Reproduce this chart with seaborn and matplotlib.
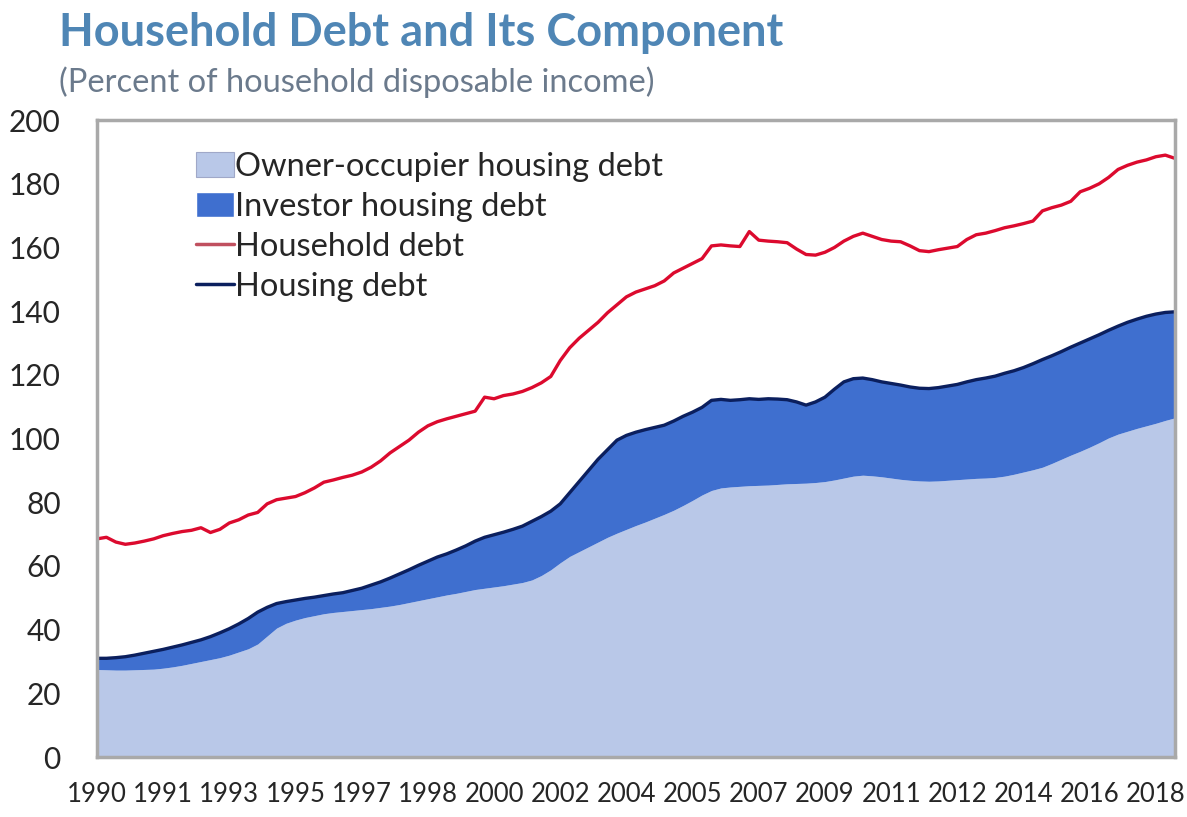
import numpy as np
import pandas as pd
import matplotlib
matplotlib.use("Agg")
import matplotlib.pyplot as plt
import seaborn as sns
from matplotlib.patches import Patch
from matplotlib.lines import Line2D

# quarterly data, 1990Q1 - 2018Q3, percent of household disposable income
household_debt = [
    68.5, 69, 67.5, 66.8, 67.2, 67.8, 68.5, 69.5, 70.2, 70.8,
    71.2, 72, 70.5, 71.5, 73.5, 74.5, 76, 76.8, 79.5, 80.8,
    81.3, 81.8, 83, 84.5, 86.3, 87, 87.8, 88.5, 89.5, 91,
    93, 95.5, 97.5, 99.5, 102, 104, 105.3, 106.2, 107, 107.8,
    108.6, 113, 112.5, 113.5, 114, 114.8, 116, 117.5, 119.5, 124.5,
    128.5, 131.5, 134, 136.5, 139.5, 142, 144.5, 146, 147, 148,
    149.5, 152, 153.5, 155, 156.5, 160.5, 160.8, 160.5, 160.3, 165,
    162.3, 162, 161.8, 161.5, 159.5, 157.8, 157.6, 158.5, 160, 162,
    163.5, 164.5, 163.5, 162.5, 162, 161.8, 160.5, 159, 158.7, 159.3,
    159.8, 160.3, 162.5, 164, 164.5, 165.3, 166.2, 166.8, 167.5, 168.3,
    171.5, 172.5, 173.3, 174.5, 177.5, 178.6, 180, 182, 184.5, 185.8,
    186.8, 187.5, 188.5, 189, 188,
]
housing_debt = [
    31, 31, 31.2, 31.5, 32, 32.6, 33.2, 33.8, 34.5, 35.2,
    36, 36.8, 37.8, 39, 40.3, 41.8, 43.5, 45.5, 47, 48.2,
    48.8, 49.3, 49.8, 50.2, 50.7, 51.2, 51.6, 52.3, 53, 54,
    55, 56.2, 57.5, 58.8, 60.2, 61.5, 62.8, 63.8, 65, 66.3,
    67.8, 69, 69.8, 70.6, 71.5, 72.5, 74, 75.5, 77.2, 79.5,
    83, 86.5, 90, 93.5, 96.5, 99.5, 101, 102, 102.8, 103.5,
    104.2, 105.5, 107, 108.3, 109.8, 112, 112.3, 112, 112.2, 112.5,
    112.3, 112.5, 112.4, 112.2, 111.5, 110.5, 111.5, 113, 115.5, 117.8,
    118.8, 119, 118.5, 117.8, 117.3, 116.8, 116.2, 115.8, 115.7, 116,
    116.5, 117, 117.8, 118.5, 119, 119.6, 120.5, 121.3, 122.3, 123.5,
    124.8, 126, 127.3, 128.7, 130, 131.3, 132.6, 134, 135.3, 136.5,
    137.5, 138.4, 139.1, 139.6, 139.8,
]
owner_occupier = [
    27.5, 27.4, 27.3, 27.3, 27.4, 27.5, 27.6, 27.9, 28.3, 28.8,
    29.4, 30, 30.6, 31.2, 32, 33, 34, 35.5, 38, 40.5,
    42, 43, 43.8, 44.4, 45, 45.4, 45.7, 46, 46.3, 46.6,
    47, 47.4, 47.9, 48.5, 49.1, 49.7, 50.3, 50.9, 51.4, 52,
    52.6, 53, 53.4, 53.8, 54.3, 54.8, 55.6, 57, 58.8, 61,
    63, 64.5, 66, 67.5, 69, 70.3, 71.5, 72.7, 73.8, 75,
    76.2, 77.5, 79, 80.6, 82.3, 83.7, 84.5, 84.8, 85, 85.2,
    85.3, 85.4, 85.6, 85.8, 85.9, 86, 86.2, 86.5, 87, 87.6,
    88.2, 88.5, 88.3, 88, 87.6, 87.2, 86.9, 86.7, 86.6, 86.7,
    86.9, 87.1, 87.3, 87.5, 87.6, 87.8, 88.2, 88.8, 89.5, 90.2,
    91, 92.2, 93.5, 94.8, 96, 97.3, 98.7, 100.2, 101.4, 102.3,
    103.2, 104, 104.8, 105.7, 106.5,
]
tick_labels = ["1990", "1991", "1993", "1995", "1997", "1998", "2000", "2002",
               "2004", "2005", "2007", "2009", "2011", "2012", "2014", "2016", "2018"]

df = pd.DataFrame({
    "q": np.arange(len(household_debt)),
    "household": household_debt,
    "housing": housing_debt,
    "owner": owner_occupier,
})

sns.set_style("white")
plt.rcParams["font.family"] = ["Lato", "DejaVu Sans"]

c_owner = "#b9c8e8"
c_investor = "#3f6fcf"
c_house = "#0b1f5e"
c_red = "#dc0a2e"

fig = plt.figure(figsize=(11.87, 8.17), dpi=100)
ax = fig.add_axes([0.0817, 0.0734, 0.908, 0.7796])

ax.fill_between(df["q"], 0, df["owner"], color=c_owner, lw=0)
ax.fill_between(df["q"], df["owner"], df["housing"], color=c_investor, lw=0)
sns.lineplot(x="q", y="housing", data=df, ax=ax, color=c_house, lw=2.4)
sns.lineplot(x="q", y="household", data=df, ax=ax, color=c_red, lw=2.4)

ax.set_xlim(0, len(df) - 1)
ax.set_ylim(0, 200)
ax.set_yticks(range(0, 201, 20))
ax.set_xticks(range(0, len(df), 7))
ax.set_xticklabels(tick_labels)
ax.tick_params(axis="y", labelsize=21.5, pad=26, length=0)
ax.tick_params(axis="x", labelsize=18.5, pad=18, length=0)
ax.set_xlabel("")
ax.set_ylabel("")
for s in ax.spines.values():
    s.set_color("#a9a9a9")
    s.set_linewidth(2.5)

handles = [
    Patch(facecolor=c_owner, edgecolor="#a0a8c8", lw=0.8),
    Patch(facecolor=c_investor),
    Line2D([], [], color="#c0505f", lw=2.5),
    Line2D([], [], color=c_house, lw=2.5),
]
labels = ["Owner-occupier housing debt", "Investor housing debt",
          "Household debt", "Housing debt"]
ax.legend(handles, labels, loc="upper left", bbox_to_anchor=(0.08, 0.97),
          frameon=False, fontsize=23.5, handlelength=1.15, handleheight=0.8,
          handletextpad=0.05, labelspacing=0.3, borderaxespad=0)

fig.text(0.05, 0.96, "Household Debt and Its Component", fontsize=32.5,
         fontweight="bold", color="#4f86b5", va="center")
fig.text(0.05, 0.9, "(Percent of household disposable income)", fontsize=23.5,
         color="#6b7a8c", va="center")

fig.savefig("out.png", dpi=100)
